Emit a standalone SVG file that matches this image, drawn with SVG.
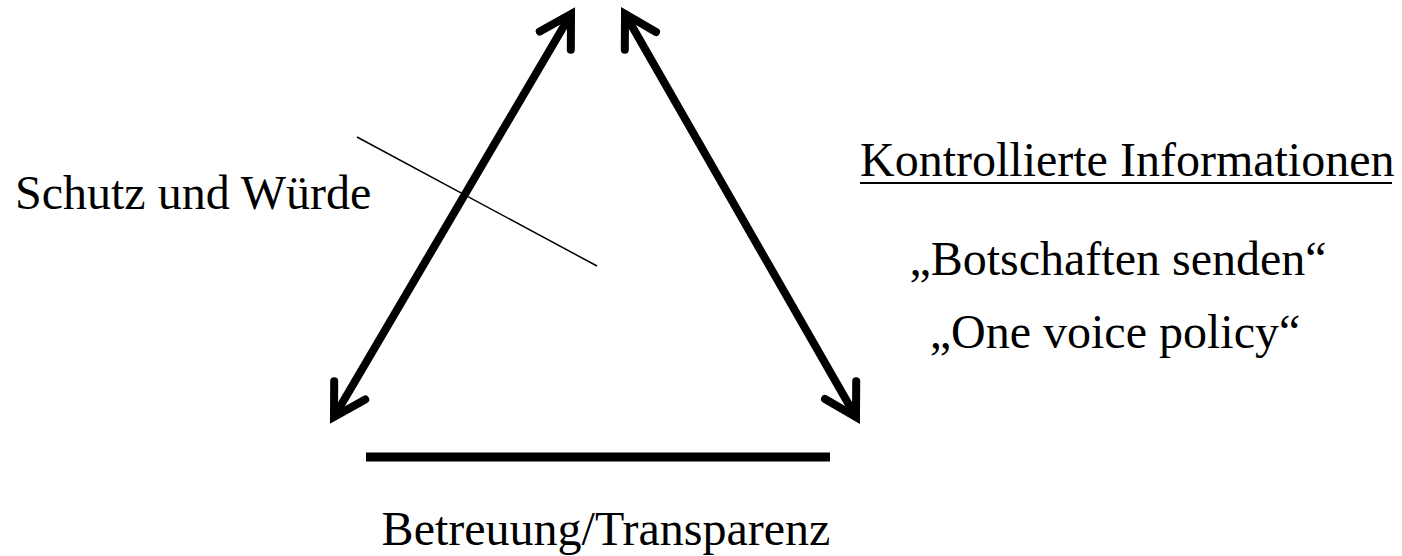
<svg xmlns="http://www.w3.org/2000/svg" width="1402" height="556" viewBox="0 0 1402 556">
<style>
text{font-family:"Liberation Serif","Times New Roman",serif;font-size:48px;fill:#000}
.thick{stroke:#000;stroke-width:8;fill:none}
.thin{stroke:#000;stroke-width:1.5;fill:none}
</style>
<defs>
<marker id="ah" markerUnits="userSpaceOnUse" orient="auto-start-reverse" markerWidth="60" markerHeight="60" refX="0" refY="0" viewBox="-40 -30 60 60" overflow="visible">
<path d="M-31,-18 L0,0 L-31,18" fill="none" stroke="#000" stroke-width="8" stroke-linecap="round" stroke-linejoin="miter"/>
</marker>
</defs>
<rect width="1402" height="556" fill="#fff"/>
<g id="connectors">
<line class="thick" x1="334" y1="417" x2="571" y2="14" marker-start="url(#ah)" marker-end="url(#ah)"/>
<line class="thick" x1="625" y1="14" x2="856" y2="417" marker-start="url(#ah)" marker-end="url(#ah)"/>
<line id="bar" x1="366" y1="457" x2="830" y2="457" stroke="#000" stroke-width="9"/>
<line class="thin" x1="357" y1="137" x2="597" y2="266"/>
</g>
<g id="schutz"><text x="15" y="209">Schutz und Würde</text></g>
<g id="kontrolle">
<text x="860" y="176">Kontrollierte Informationen</text>
<line x1="860" y1="183" x2="1392" y2="183" stroke="#000" stroke-width="2"/>
<text x="1118" y="275" text-anchor="middle">„Botschaften senden“</text>
<text x="1115" y="348" text-anchor="middle">„One voice policy“</text>
</g>
<g id="betreuung"><text x="606" y="545" text-anchor="middle">Betreuung/Transparenz</text></g>
</svg>
